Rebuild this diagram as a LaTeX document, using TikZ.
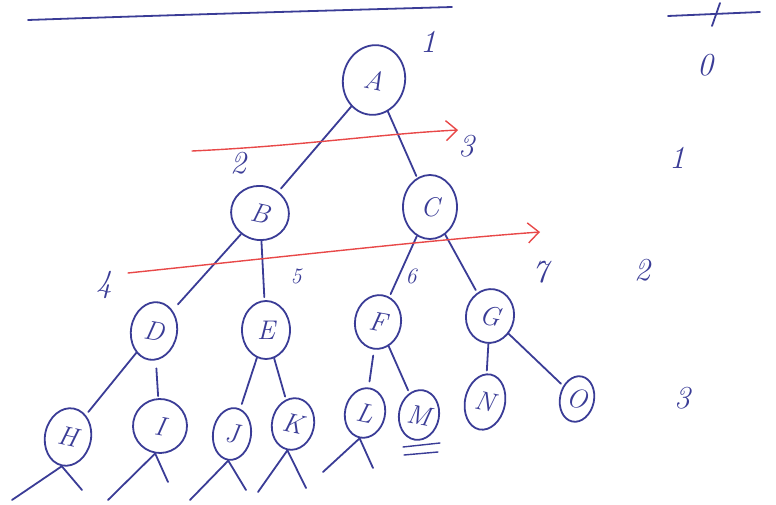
\documentclass[tikz,border=0pt]{standalone}
\usetikzlibrary{shapes.geometric,arrows.meta}
\definecolor{ink}{RGB}{58,60,150}
\definecolor{redink}{RGB}{232,72,72}
\begin{document}
\begin{tikzpicture}[x=1pt,y=-1pt,
  tn/.style={ellipse,draw=ink,line width=1.8pt,inner sep=0pt,text=ink,font=\fontsize{27}{29}\selectfont\itshape},
  num/.style={text=ink,font=\fontsize{32}{34}\selectfont\itshape,inner sep=0pt},
  smallnum/.style={text=ink,font=\fontsize{22}{24}\selectfont\itshape,inner sep=0pt},
  edge/.style={draw=ink,line width=1.8pt,line cap=round},
  redarrow/.style={draw=redink,line width=1.4pt,line cap=round,-{Straight Barb[length=11pt,width=20pt,line width=1.4pt]}}]
\useasboundingbox (0,0) rectangle (776,505);
% header lines
\coordinate (h1) at (28,20);
\coordinate (h2) at (452,7);
\draw[edge] (h1) .. controls (200,14) and (350,10) .. (h2);
\coordinate (r1) at (668,16);
\coordinate (r2) at (760,12);
\coordinate (s1) at (720,3);
\coordinate (s2) at (712,26);
\draw[edge] (r1) -- (r2);
\draw[edge] (s1) -- (s2);
% nodes
\node[tn,minimum width=62pt,minimum height=70pt,rotate=-12] (A) at (374,80) {A};
\node[tn,minimum width=58pt,minimum height=54pt,rotate=-12] (B) at (260,213) {B};
\node[tn,minimum width=54pt,minimum height=64pt] (C) at (430,207) {C};
\node[tn,minimum width=46pt,minimum height=58pt,rotate=-10] (D) at (154,331) {D};
\node[tn,minimum width=48pt,minimum height=58pt] (E) at (266,330) {E};
\node[tn,minimum width=46pt,minimum height=54pt,rotate=-10] (F) at (378,322) {F};
\node[tn,minimum width=48pt,minimum height=54pt,rotate=-10] (G) at (490,316) {G};
\node[tn,minimum width=46pt,minimum height=58pt,rotate=-12] (H) at (68,437) {H};
\node[tn,minimum width=54pt,minimum height=54pt,rotate=-10] (I) at (160,426) {I};
\node[tn,minimum width=38pt,minimum height=52pt,rotate=-8] (J) at (232,434) {J};
\node[tn,minimum width=42pt,minimum height=52pt,rotate=-12] (K) at (293,424) {K};
\node[tn,minimum width=40pt,minimum height=50pt,rotate=-12] (L) at (365,413) {L};
\node[tn,minimum width=40pt,minimum height=50pt,rotate=-10] (M) at (419,415) {M};
\node[tn,minimum width=40pt,minimum height=56pt,rotate=-12] (N) at (485,402) {N};
\node[tn,minimum width=34pt,minimum height=46pt,rotate=-12] (O) at (577,399) {O};
% underline under M
\coordinate (u1) at (403,447);
\coordinate (u2) at (440,443);
\coordinate (u3) at (404,455);
\coordinate (u4) at (438,452);
\draw[edge,line width=1.4pt] (u1) -- (u2);
\draw[edge,line width=1.4pt] (u3) -- (u4);
% tree edges
\draw[edge,shorten >=4pt] (A) -- (B);
\draw[edge,shorten >=2pt] (A) -- (C);
\draw[edge,shorten >=8pt] (B) -- (D);
\draw[edge,shorten >=3pt] (B) -- (E);
\draw[edge,shorten >=3pt] (C) -- (F);
\draw[edge,shorten >=3pt] (C) -- (G);
\draw[edge,shorten >=4pt] (D) -- (H);
\draw[edge,shorten >=2pt,shorten <=8pt] (D) -- (I);
\draw[edge,shorten >=5pt] (E) -- (J);
\draw[edge,shorten >=3pt] (E) -- (K);
\draw[edge,shorten >=6pt,shorten <=6pt] (F) -- (L);
\draw[edge,shorten >=3pt] (F) -- (M);
\draw[edge,shorten >=3pt] (G) -- (N);
\draw[edge,shorten >=3pt] (G) -- (O);
% dangling lines
\coordinate (ha) at (12,500); \coordinate (hb) at (82,490);
\coordinate (ia) at (108,500); \coordinate (ib) at (168,482);
\coordinate (ja) at (190,500); \coordinate (jb) at (246,490);
\coordinate (ka) at (258,492); \coordinate (kb) at (306,488);
\coordinate (la) at (323,472); \coordinate (lb) at (373,468);
\draw[edge] (H.south) -- (ha);
\draw[edge] (H.south) -- (hb);
\draw[edge] (I.south) -- (ia);
\draw[edge] (I.south) -- (ib);
\draw[edge] (J.south) -- (ja);
\draw[edge] (J.south) -- (jb);
\draw[edge] (K.south) -- (ka);
\draw[edge] (K.south) -- (kb);
\draw[edge] (L.south) -- (la);
\draw[edge] (L.south) -- (lb);
% red arrows
\coordinate (ra1) at (192,151);
\coordinate (ra2) at (458,130);
\coordinate (rb1) at (128,273);
\coordinate (rb2) at (540,232);
\draw[redarrow] (ra1) .. controls (300,146) and (380,134) .. (ra2);
\draw[redarrow] (rb1) .. controls (300,255) and (430,240) .. (rb2);
% order numbers
\node[num] (n1) at (428,42) {1};
\node[num] (n2) at (238,163) {2};
\node[num] (n3) at (466,146) {3};
\node[num] (n4) at (104,285) {4};
\node[smallnum] (n5) at (296,276) {5};
\node[smallnum] (n6) at (411,276) {6};
\node[num] (n7) at (540,272) {7};
% level numbers
\node[num] (l0) at (705,65) {0};
\node[num] (l1) at (677,158) {1};
\node[num] (l2) at (642,270) {2};
\node[num] (l3) at (682,398) {3};
\end{tikzpicture}
\end{document}
